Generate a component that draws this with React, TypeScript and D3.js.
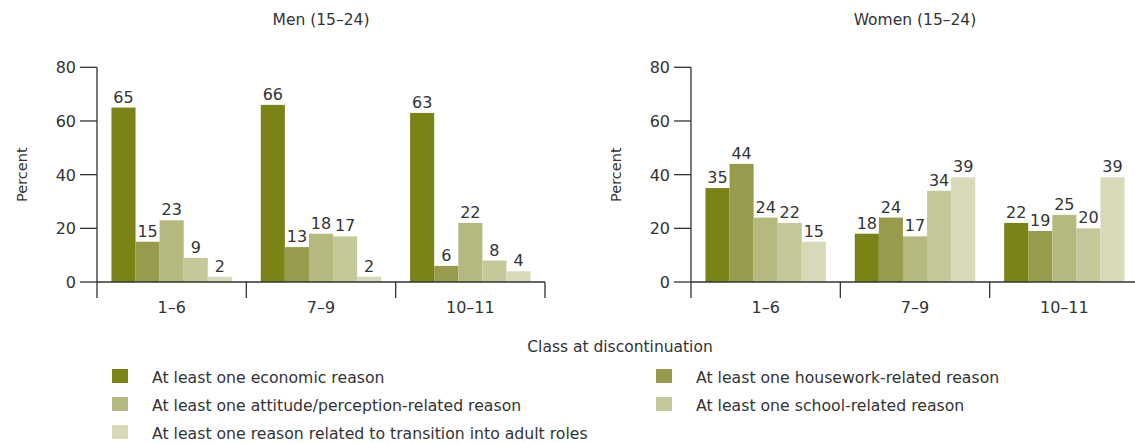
import React from "react";
import * as d3 from "d3";

const categories = ["1–6", "7–9", "10–11"];
const seriesNames = [
  "At least one economic reason",
  "At least one housework-related reason",
  "At least one attitude/perception-related reason",
  "At least one school-related reason",
  "At least one reason related to transition into adult roles",
];
const colors = ["#7b8216", "#979b4b", "#b5b97f", "#c5c899", "#d8d9b8"];
// values[category][series]
const menValues = [
  [65, 15, 23, 9, 2],
  [66, 13, 18, 17, 2],
  [63, 6, 22, 8, 4],
];
const womenValues = [
  [35, 44, 24, 22, 15],
  [18, 24, 17, 34, 39],
  [22, 19, 25, 20, 39],
];
const yTicks = [0, 20, 40, 60, 80];

const FONT = "'DejaVu Sans', Verdana, sans-serif";
const TEXT = "#333";

function Panel({ title, values, x0, x1 }: { title: string; values: number[][]; x0: number; x1: number }) {
  const yTop = 67.3;
  const yBot = 282;
  const y = d3.scaleLinear().domain([0, 80]).range([yBot, yTop]);
  const xb = d3.scaleBand<string>().domain(categories).range([x0, x1]).padding(0);
  const inner = d3
    .scaleBand<number>()
    .domain(d3.range(seriesNames.length))
    .range([0, xb.bandwidth()])
    .paddingOuter(0.6)
    .paddingInner(0);
  return (
    <g>
      <text x={(x0 + x1) / 2} y={25} textAnchor="middle" fontSize={15.5} fill={TEXT} fontFamily={FONT}>
        {title}
      </text>
      <text
        transform={`translate(${x0 - 70},${(yTop + yBot) / 2}) rotate(-90)`}
        textAnchor="middle"
        fontSize={14.5}
        fill={TEXT}
        fontFamily={FONT}
      >
        Percent
      </text>
      {categories.map((c, ci) => (
        <g key={c}>
          {values[ci].map((v, si) => {
            const bx = (xb(c) as number) + (inner(si) as number);
            return (
              <g key={si}>
                <rect x={bx} y={y(v)} width={inner.bandwidth()} height={yBot - y(v)} fill={colors[si]} />
                <text
                  x={bx + inner.bandwidth() / 2}
                  y={y(v) - 5}
                  textAnchor="middle"
                  fontSize={16}
                  fill={TEXT}
                  fontFamily={FONT}
                >
                  {v}
                </text>
              </g>
            );
          })}
          <text
            x={(xb(c) as number) + xb.bandwidth() / 2}
            y={313}
            textAnchor="middle"
            fontSize={16}
            fill={TEXT}
            fontFamily={FONT}
          >
            {c}
          </text>
        </g>
      ))}
      {/* y axis */}
      <line x1={x0} x2={x0} y1={yTop} y2={298} stroke="#333" strokeWidth={1.3} />
      {yTicks.map((t) => (
        <g key={t}>
          <line x1={x0 - 17} x2={x0} y1={y(t)} y2={y(t)} stroke="#333" strokeWidth={1.3} />
          <text x={x0 - 21} y={y(t) + 6} textAnchor="end" fontSize={16} fill={TEXT} fontFamily={FONT}>
            {t}
          </text>
        </g>
      ))}
      {/* x axis */}
      <line x1={x0} x2={x1} y1={yBot} y2={yBot} stroke="#333" strokeWidth={1.3} />
      {categories.slice(1).map((c) => (
        <line key={c} x1={xb(c) as number} x2={xb(c) as number} y1={yBot} y2={298} stroke="#333" strokeWidth={1.3} />
      ))}
      <line x1={x1} x2={x1} y1={yBot} y2={298} stroke="#333" strokeWidth={1.3} />
    </g>
  );
}

export default function App() {
  const legendPos = [
    { x: 112, y: 376 },
    { x: 656, y: 376 },
    { x: 112, y: 404 },
    { x: 656, y: 404 },
    { x: 112, y: 432 },
  ];
  return (
    <svg width={1135} height={443} style={{ position: "absolute", left: 0, top: 0 }}>
      <rect width={1135} height={443} fill="#fff" />
      <Panel title="Men (15–24)" values={menValues} x0={97} x1={545} />
      <Panel title="Women (15–24)" values={womenValues} x0={691} x1={1139} />
      <text x={620} y={352} textAnchor="middle" fontSize={15.5} fill={TEXT} fontFamily={FONT}>
        Class at discontinuation
      </text>
      {seriesNames.map((s, i) => (
        <g key={s}>
          <rect x={legendPos[i].x} y={legendPos[i].y - 7} width={16} height={14} fill={colors[i]} />
          <text x={legendPos[i].x + 40} y={legendPos[i].y + 7} fontSize={15.7} fill={TEXT} fontFamily={FONT}>
            {s}
          </text>
        </g>
      ))}
    </svg>
  );
}
